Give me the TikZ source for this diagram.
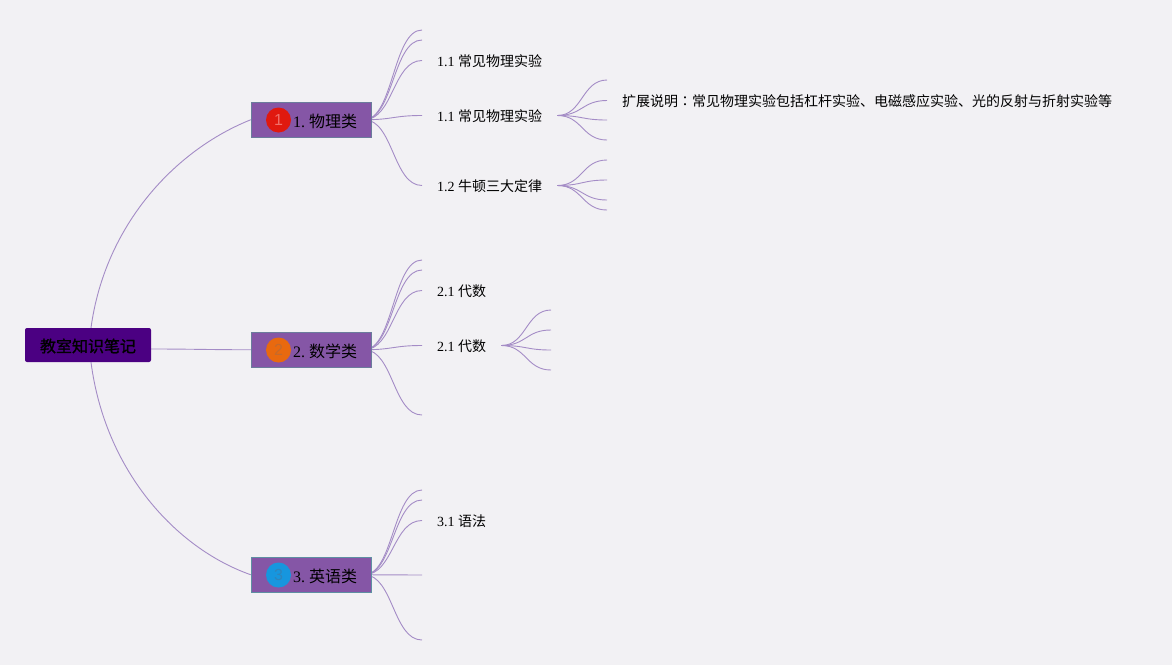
\documentclass[tikz,border=0pt]{standalone}
\usepackage{fontspec}
\setmainfont{Liberation Serif}
\newfontfamily\cjk{Noto Sans CJK SC}
\newfontfamily\cjkt{Noto Sans CJK TC}
\newfontfamily\cjkb[FakeBold=1]{Noto Sans CJK SC}
\newfontfamily\numf{Liberation Sans}
\definecolor{bgc}{HTML}{F2F1F4}
\definecolor{linkc}{HTML}{A48CC6}
\definecolor{rootc}{HTML}{4B0082}
\definecolor{branchc}{HTML}{8556A6}
\definecolor{edgea}{HTML}{6B7C9C}
\definecolor{edgeb}{HTML}{5F8FA2}
\definecolor{bada}{HTML}{E0190F}
\definecolor{badb}{HTML}{E8690F}
\definecolor{badc}{HTML}{1796DE}
\definecolor{numa}{HTML}{F0706A}
\definecolor{numb}{HTML}{C46A2C}
\definecolor{numc}{HTML}{2F84BC}
\newcommand{\cj}[1]{{\cjk #1}}
\newcommand{\dn}[1]{\raisebox{-1pt}[\height][\depth]{#1}}
\tikzset{
  x=1pt,y=-1pt,
  rootbox/.style={fill=rootc,rounded corners=2pt,minimum width=126pt,minimum height=34pt,inner sep=0pt,text=black,font=\fontsize{16}{18}\selectfont},
  branchbox/.style={fill=branchc,draw=#1,line width=1pt,minimum width=120.5pt,minimum height=34.5pt,inner sep=0pt},
  badge/.style={circle,fill=#1,minimum size=25pt,inner sep=0pt},
  badgenum/.style={text=#1,font=\fontsize{16}{18}\numf,inner sep=0pt},
  branchtext/.style={anchor=west,inner sep=0pt,text=black,font=\fontsize{16}{18}\selectfont},
  leaf/.style={inner xsep=15pt,inner ysep=0pt,anchor=west,text=black,font=\fontsize{14}{16}\selectfont},
  link/.style={draw=linkc,line width=0.9pt},
}
\newcommand{\curv}[2]{\draw[link] (#1) .. controls +(25,0) and +(-25,0) .. (#2);}
\newcommand{\curvb}[2]{\draw[link] ([xshift=-8pt]#1.east) .. controls +(29,0) and +(-29,0) .. (#2);}
\pgfdeclarelayer{linklayer}
\pgfsetlayers{linklayer,main}
\begin{document}
\begin{tikzpicture}
\begin{pgfonlayer}{linklayer}
\useasboundingbox[fill=bgc] (0,0) rectangle (1172,665);
\end{pgfonlayer}
% root and branches
\node[rootbox] (root) at (88,345) {\dn{\cjkb 教室知识笔记}};
\node[branchbox=edgea] (b1) at (311.5,119.75) {};
\node[branchbox=edgea] (b2) at (311.5,349.75) {};
\node[branchbox=edgeb] (b3) at (311.5,574.75) {};
\node[badge=bada] (i1) at (278.5,120) {};
\node[badge=badb] (i2) at (278.5,350) {};
\node[badge=badc] (i3) at (278.5,575) {};
\node[badgenum=numa] (n1) at (i1) {1};
\node[badgenum=numb] (n2) at (i2) {2};
\node[badgenum=numc] (n3) at (i3) {3};
\node[branchtext] (t1) at (293,121) {1.\hspace{4pt}\cj{物理类}};
\node[branchtext] (t2) at (293,351) {2.\hspace{4pt}\cj{数学类}};
\node[branchtext] (t3) at (293,576) {3.\hspace{4pt}\cj{英语类}};
% leaves with text
\node[leaf] (l12) at (422,60.5) {\dn{1.1 \cj{常见物理实验}}};
\node[leaf] (l14) at (422,115.5) {\dn{1.1 \cj{常见物理实验}}};
\node[leaf] (l15) at (422,185.5) {\dn{1.2 \cj{牛顿三大定律}}};
\node[leaf] (l22) at (422,290.5) {\dn{2.1 \cj{代数}}};
\node[leaf] (l24) at (422,345.5) {\dn{2.1 \cj{代数}}};
\node[leaf] (l32) at (422,520.5) {\dn{3.1 \cj{语法}}};
\node[leaf] (ext) at (607,100.5) {\dn{\cj{扩展说明{\cjkt ：}常见物理实验包括杠杆实验、电磁感应实验、光的反射与折射实验等}}};
% free ends
\coordinate (l10) at (422,30);
\coordinate (l11) at (422,40);
\coordinate (l20) at (422,260);
\coordinate (l21) at (422,270);
\coordinate (l25) at (422,415);
\coordinate (l30) at (422,490);
\coordinate (l31) at (422,500);
\coordinate (l34) at (422,575);
\coordinate (l35) at (422,640);
\coordinate (a1) at (607,80);
\coordinate (a3) at (607,120);
\coordinate (a4) at (607,140);
\coordinate (c1) at (607,160);
\coordinate (c2) at (607,180);
\coordinate (c3) at (607,200);
\coordinate (c4) at (607,210);
\coordinate (d1) at (551,310);
\coordinate (d2) at (551,330);
\coordinate (d3) at (551,350);
\coordinate (d4) at (551,370);
\begin{pgfonlayer}{linklayer}
% root links
\draw[link] ([xshift=3pt]root.north) .. controls (105,225) and (175,150) .. (b1.west);
\draw[link] ([yshift=-4pt]root.east) .. controls +(40,0) and +(-40,0) .. (b2.west);
\draw[link] ([xshift=3pt]root.south) .. controls (105,470) and (175,548) .. (b3.west);
% branch links
\foreach \e in {l10,l11,l12.west,l14.west,l15.west} {\curvb{b1}{\e}}
\foreach \e in {l20,l21,l22.west,l24.west,l25} {\curvb{b2}{\e}}
\foreach \e in {l30,l31,l32.west,l34,l35} {\curvb{b3}{\e}}
\foreach \e in {a1,ext.west,a3,a4} {\curv{l14.east}{\e}}
\foreach \e in {c1,c2,c3,c4} {\curv{l15.east}{\e}}
\foreach \e in {d1,d2,d3,d4} {\curv{l24.east}{\e}}
\end{pgfonlayer}
\end{tikzpicture}
\end{document}
